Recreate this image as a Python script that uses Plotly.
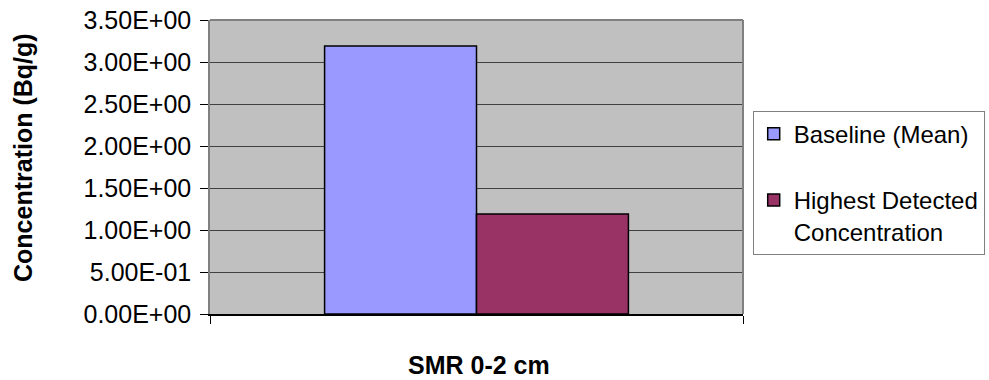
import plotly.graph_objects as go

categories = ["SMR 0-2 cm"]
series_names = ["Baseline (Mean)", "Highest Detected<br>Concentration"]
baseline_values = [3.19]
highest_values = [1.19]
tick_values = [0, 0.5, 1.0, 1.5, 2.0, 2.5, 3.0, 3.5]
tick_labels = ["0.00E+00", "5.00E-01", "1.00E+00", "1.50E+00", "2.00E+00",
               "2.50E+00", "3.00E+00", "3.50E+00"]
y_title = "Concentration (Bq/g)"
x_title = categories[0]

W, H = 989, 380
L, R, T, B = 210, 743, 20, 314

fig = go.Figure()
fig.add_trace(go.Bar(x=categories, y=baseline_values, name=series_names[0],
                     legendgroup="a",
                     marker=dict(color="#9999FF", line=dict(color="black", width=1.5))))
fig.add_trace(go.Bar(x=categories, y=highest_values, name=series_names[1],
                     legendgroup="b",
                     marker=dict(color="#993366", line=dict(color="black", width=1.5))))

pw, ph = R - L, B - T

fig.update_layout(
    width=W, height=H,
    margin=dict(l=L, r=W - R, t=T, b=H - B, pad=0, autoexpand=False),
    paper_bgcolor="white",
    plot_bgcolor="#C0C0C0",
    barmode="group", bargap=0.43, bargroupgap=0,
    font=dict(family="Liberation Sans, Arial, sans-serif", color="black"),
    showlegend=True,
    legend=dict(
        x=(752.7 - L) / pw, y=(B - 110.7) / ph, xanchor="left", yanchor="top",
        bgcolor="white", bordercolor="#808080", borderwidth=1,
        font=dict(size=24, family="Liberation Sans, Arial, sans-serif"),
        tracegroupgap=32, valign="top", traceorder="grouped",
    ),
    xaxis=dict(
        showticklabels=False, ticks="outside", ticklen=8, tickcolor="black",
        tickson="boundaries", showgrid=False, showline=True, linecolor="black",
        linewidth=1.5, zeroline=False,
    ),
    yaxis=dict(
        range=[0, 3.5], tickvals=tick_values, ticktext=tick_labels,
        ticks="outside", ticklen=8, tickcolor="black",
        tickfont=dict(size=25), ticklabelstandoff=4, ticklabeloverflow="allow",
        showgrid=True, gridcolor="#404040", gridwidth=1,
        showline=True, linecolor="#808080", linewidth=1.5, zeroline=False,
    ),
    shapes=[
        dict(type="line", xref="paper", yref="paper", x0=0, x1=1, y0=1, y1=1,
             line=dict(color="#808080", width=2)),
        dict(type="line", xref="paper", yref="paper", x0=1, x1=1, y0=0, y1=1,
             line=dict(color="#808080", width=2)),
    ],
    annotations=[
        dict(text="<b>" + y_title + "</b>", textangle=-90, xref="paper", yref="paper",
             x=(23 - L) / pw, y=(B - 158) / ph, xanchor="center", yanchor="middle",
             showarrow=False, font=dict(size=25)),
        dict(text="<b>" + x_title + "</b>", xref="paper", yref="paper",
             x=(479 - L) / pw, y=(B - 365) / ph, xanchor="center", yanchor="middle",
             showarrow=False, font=dict(size=25)),
    ],
)

# remove the browser's default 8px page margin so the figure sits at (0, 0)
fig.write_html("out.html", config={"displayModeBar": False},
               post_script="document.body.style.margin='0';")
